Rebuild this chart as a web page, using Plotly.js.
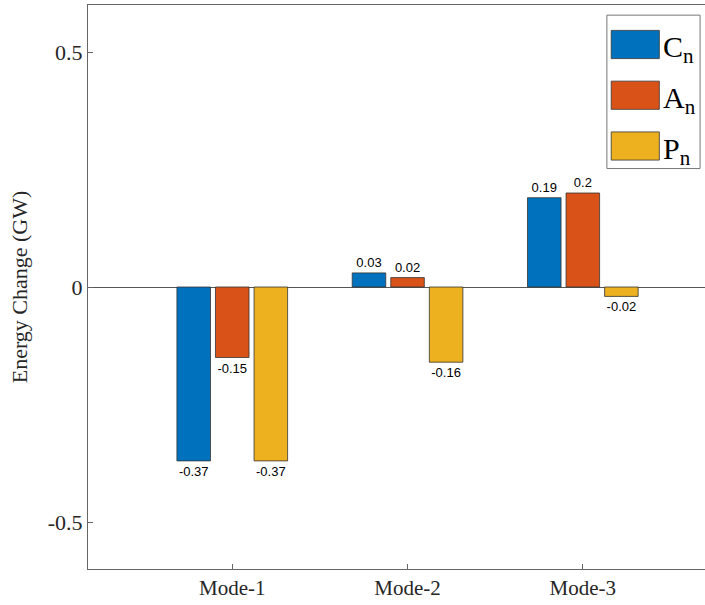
<!DOCTYPE html>
<html>
<head>
<script src="https://cdn.plot.ly/plotly-3.0.1.min.js"></script>
<style>body{margin:0;background:#fff}</style>
</head>
<body>
<div id="chart" style="width:705px;height:605px"></div>
<script>
const modes = ['Mode-1', 'Mode-2', 'Mode-3'];
const cn = [-0.37, 0.03, 0.19];
const an = [-0.15, 0.02, 0.2];
const pn = [-0.37, -0.16, -0.02];
const names = ['C<sub>n</sub>', 'A<sub>n</sub>', 'P<sub>n</sub>'];
const colors = ['#0072BD', '#D95319', '#EDB120'];
const serif = '"Liberation Serif", "Times New Roman", serif';

const traces = [cn, an, pn].map((vals, i) => ({
    type: 'bar', x: modes, y: vals, name: names[i], showlegend: false,
    marker: {color: colors[i], line: {color: '#333', width: 0.8}},
    text: vals.map(v => String(v)), textposition: 'outside', cliponaxis: false,
    textfont: {family: '"Liberation Sans", Arial, sans-serif', size: 13, color: '#000'}
}));

// hand-built legend with wide swatches, like the MATLAB one
const shapes = [{type: 'rect', xref: 'paper', yref: 'paper', x0: 0.841, x1: 0.992, y0: 0.71, y1: 0.982,
    line: {color: '#777', width: 1}, fillcolor: '#fff'}];
const annotations = [];
names.forEach((n, i) => {
    const yc = 0.93 - i * 0.09;
    shapes.push({type: 'rect', xref: 'paper', yref: 'paper', x0: 0.848, x1: 0.926,
        y0: yc - 0.025, y1: yc + 0.025, fillcolor: colors[i], line: {color: '#333', width: 0.8}});
    annotations.push({xref: 'paper', yref: 'paper', x: 0.928, y: yc - 0.008, xanchor: 'left', yanchor: 'middle',
        text: n, showarrow: false, font: {family: serif, size: 30, color: '#000'}});
});

Plotly.newPlot('chart', traces, {
    width: 705, height: 605,
    margin: {l: 88, r: 0, t: 5, b: 36},
    paper_bgcolor: '#fff', plot_bgcolor: '#fff',
    barmode: 'group', bargap: 0.34, bargroupgap: 0.13,
    font: {family: serif, color: '#262626'},
    shapes: shapes, annotations: annotations,
    xaxis: {
        range: [-0.823, 2.697], showline: true, mirror: true, linecolor: '#666',
        ticks: 'inside', ticklen: 5, tickcolor: '#666', tickfont: {family: serif, size: 21}
    },
    yaxis: {
        range: [-0.6, 0.6], tickvals: [-0.5, 0, 0.5], ticktext: ['-0.5', '0', '0.5'],
        showline: true, mirror: true, linecolor: '#666', showgrid: false,
        zeroline: true, zerolinecolor: '#555', zerolinewidth: 1,
        ticks: 'inside', ticklen: 5, tickcolor: '#666', tickfont: {family: serif, size: 22},
        title: {text: 'Energy Change (GW)', font: {family: serif, size: 22}, standoff: 14}
    }
}, {displayModeBar: false});
</script>
</body>
</html>
